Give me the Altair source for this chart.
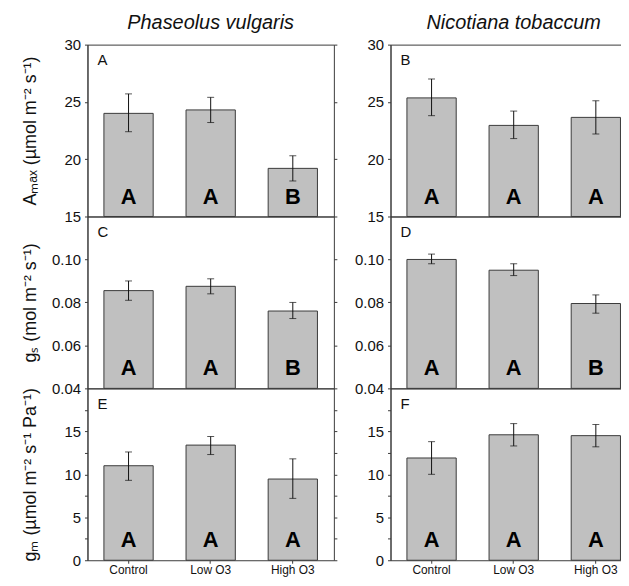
import altair as alt
import pandas as pd

cats = ["Control", "Low O3", "High O3"]

amax_pv = [24.0, 24.3, 19.2]
amax_pv_lo = [22.4, 23.2, 18.1]
amax_pv_hi = [25.7, 25.4, 20.3]
amax_pv_let = ["A", "A", "B"]

amax_nt = [25.35, 22.95, 23.65]
amax_nt_lo = [23.8, 21.8, 22.2]
amax_nt_hi = [27.0, 24.2, 25.1]
amax_nt_let = ["A", "A", "A"]

gs_pv = [0.0855, 0.0875, 0.076]
gs_pv_lo = [0.081, 0.084, 0.0725]
gs_pv_hi = [0.090, 0.091, 0.080]
gs_pv_let = ["A", "A", "B"]

gs_nt = [0.100, 0.095, 0.0795]
gs_nt_lo = [0.098, 0.0925, 0.075]
gs_nt_hi = [0.1025, 0.098, 0.0835]
gs_nt_let = ["A", "A", "B"]

gm_pv = [11.0, 13.4, 9.45]
gm_pv_lo = [9.3, 12.3, 7.2]
gm_pv_hi = [12.6, 14.4, 11.8]
gm_pv_let = ["A", "A", "A"]

gm_nt = [11.9, 14.6, 14.5]
gm_nt_lo = [10.0, 13.3, 13.2]
gm_nt_hi = [13.8, 15.9, 15.8]
gm_nt_let = ["A", "A", "A"]

species = ["Phaseolus vulgaris", "Nicotiana tobaccum"]
panel_labels = ["A", "B", "C", "D", "E", "F"]
ytitles = ["Aₘₐₓ (µmol m⁻² s⁻¹)", "gₛ (mol m⁻² s⁻¹)", "gₘ (µmol m⁻² s⁻¹ Pa⁻¹)"]

amax_ticks = [15, 20, 25, 30]
gs_ticks = [0.04, 0.06, 0.08, 0.10]
gm_ticks = [0, 2.5, 5, 7.5, 10, 12.5, 15, 17.5]

FONT = "Liberation Sans"
W, H = 248, 173
DARK = "#3a3a3a"


def panel(vals, lo, hi, letters, label, domain, ticks, fmt, lexpr, ytitle, show_x, title, right_col):
    df = pd.DataFrame({"cat": cats, "val": vals, "lo": lo, "hi": hi, "let": letters})
    xscale = alt.Scale(domain=cats, paddingInner=0.4, paddingOuter=0.2)
    if show_x:
        xax = alt.Axis(labelAngle=0, labelFontSize=12, labelFont=FONT, labelColor="#111",
                       tickSize=3, tickColor=DARK, domain=False, labelPadding=1, title=None)
    else:
        xax = None
    x = alt.X("cat:N", scale=xscale, axis=xax, sort=cats)
    ysc = alt.Scale(domain=domain, nice=False, zero=False)
    lax = dict(values=ticks, format=fmt, tickSize=3, tickColor=DARK, domainColor=DARK,
               labelFontSize=15, labelFont=FONT, labelColor="#111", labelPadding=4,
               grid=False, orient="left")
    if lexpr:
        lax["labelExpr"] = lexpr
    if ytitle:
        lax.update(title=ytitle, titleFont=FONT, titleFontSize=18, titleFontWeight="normal",
                   titleColor="#111", titleX=-48, titleY=H / 2, titleAngle=-90)
    else:
        lax["title"] = None
    base = alt.Chart(df)
    bars = base.mark_bar(fill="#c0c0c0", stroke=DARK, strokeWidth=1).encode(
        x=x,
        y=alt.Y("val:Q", scale=ysc, axis=alt.Axis(**lax)),
        y2=alt.datum(domain[0]),
    )
    if right_col:
        ry = alt.Y("lo:Q", scale=ysc, axis=None)
    else:
        ry = alt.Y("lo:Q", scale=ysc, axis=alt.Axis(values=ticks, orient="right", labels=False,
                                                    tickSize=3, tickColor=DARK, domain=False,
                                                    grid=False, title=None))
    rule = base.mark_rule(color="#111", strokeWidth=1).encode(x=x, y=ry, y2="hi:Q")
    cap_lo = base.mark_tick(color="#111", size=7, thickness=1, orient="horizontal").encode(
        x=x, y=alt.Y("lo:Q", scale=ysc, axis=None))
    cap_hi = base.mark_tick(color="#111", size=7, thickness=1, orient="horizontal").encode(
        x=x, y=alt.Y("hi:Q", scale=ysc, axis=None))
    txt = base.mark_text(font=FONT, fontSize=22, fontWeight="bold", color="#000",
                         baseline="alphabetic", dy=-13).encode(
        x=x, y=alt.Y(datum=domain[0], scale=ysc, axis=None), text="let:N")
    lab = alt.Chart(pd.DataFrame({"t": [label]})).mark_text(
        font=FONT, fontSize=15, color="#111", align="left", baseline="alphabetic").encode(
        x=alt.value(10), y=alt.value(21), text="t:N")
    layers = [bars, rule, cap_lo, cap_hi, txt, lab]
    if title:
        layers.append(alt.Chart(pd.DataFrame({"t": [title]})).mark_text(
            font=FONT, fontSize=20, fontStyle="italic", color="#111", align="center",
            baseline="alphabetic").encode(x=alt.value(W / 2), y=alt.value(-16), text="t:N"))
    return alt.layer(*layers).resolve_axis(y="independent").properties(
        width=W, height=H, view=alt.ViewBackground(stroke=DARK, strokeWidth=1))


lx = "datum.value % 5 == 0 ? datum.label : ''"
charts = [
    panel(amax_pv, amax_pv_lo, amax_pv_hi, amax_pv_let, panel_labels[0], [15, 30], amax_ticks, "d", None, ytitles[0], False, species[0], False),
    panel(amax_nt, amax_nt_lo, amax_nt_hi, amax_nt_let, panel_labels[1], [15, 30], amax_ticks, "d", None, None, False, species[1], True),
    panel(gs_pv, gs_pv_lo, gs_pv_hi, gs_pv_let, panel_labels[2], [0.04, 0.12], gs_ticks, ".2f", None, ytitles[1], False, None, False),
    panel(gs_nt, gs_nt_lo, gs_nt_hi, gs_nt_let, panel_labels[3], [0.04, 0.12], gs_ticks, ".2f", None, None, False, None, True),
    panel(gm_pv, gm_pv_lo, gm_pv_hi, gm_pv_let, panel_labels[4], [0, 20], gm_ticks, ".0f", lx, ytitles[2], True, None, False),
    panel(gm_nt, gm_nt_lo, gm_nt_hi, gm_nt_let, panel_labels[5], [0, 20], gm_ticks, ".0f", lx, None, True, None, True),
]

# the right column runs past the picture's right edge, as in the reference
chart = alt.concat(*charts, columns=2, spacing={"row": 0, "column": 57}, bounds="flush",
                   align="each").properties(
    padding={"left": 13, "top": 2, "right": -17, "bottom": -1}
).configure(background="white")

chart.save("out.html", embed_options={"renderer": "svg", "actions": False})
